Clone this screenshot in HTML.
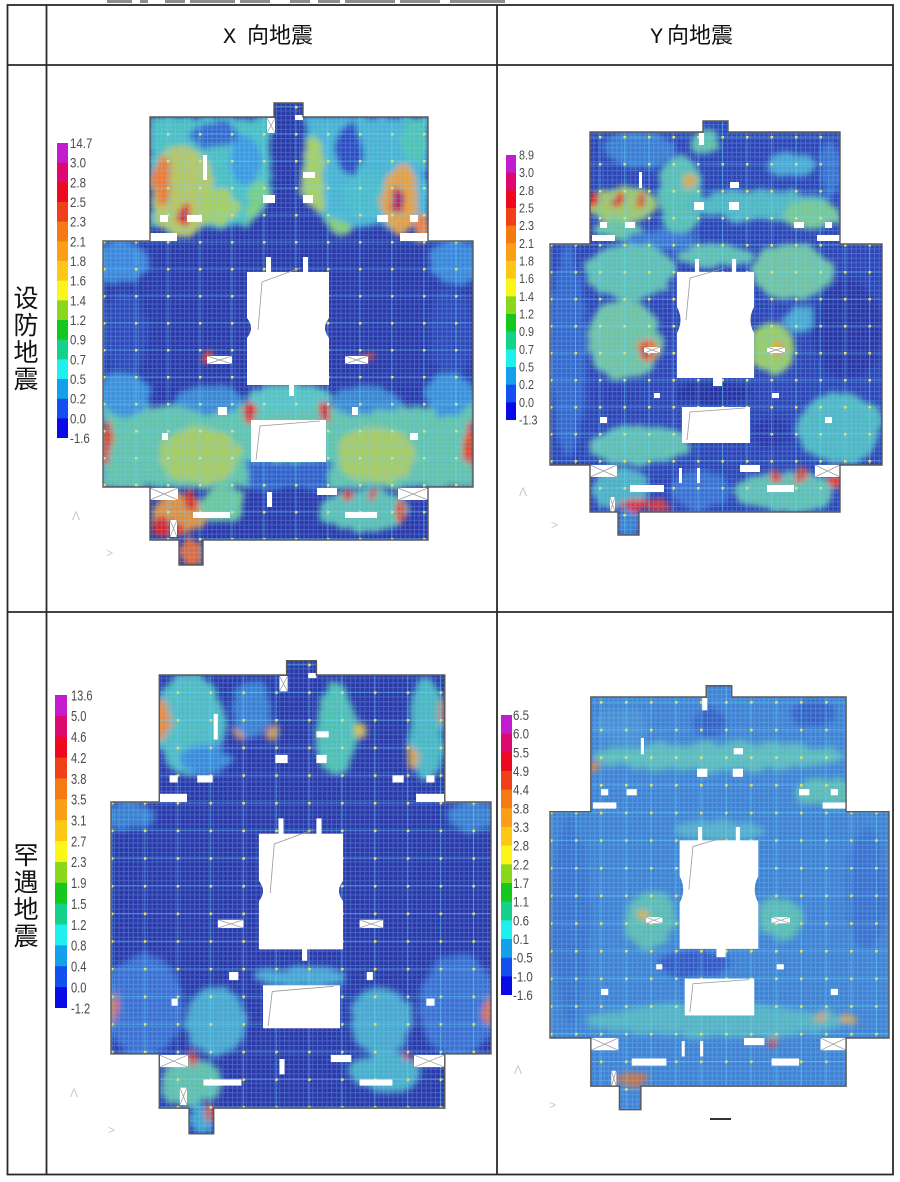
<!DOCTYPE html>
<html><head><meta charset="utf-8">
<style>
html,body{margin:0;padding:0;background:#fff;}
svg{display:block}
.lg{font-family:"Liberation Sans",sans-serif;fill:#4a4a4a}
.hd{font-family:"Liberation Sans","Noto Sans CJK SC",sans-serif;font-size:22px;fill:#111}
.rl{font-family:"Liberation Sans","Noto Sans CJK SC",sans-serif;font-size:25px;fill:#111}
.mk{font-family:"Liberation Sans",sans-serif;font-size:12px;fill:#c8c8c8}
</style></head><body>
<svg width="900" height="1182" viewBox="0 0 900 1182" xmlns="http://www.w3.org/2000/svg">
<defs>
<filter id="bl" x="-20%" y="-20%" width="140%" height="140%">
<feTurbulence type="fractalNoise" baseFrequency="0.07" numOctaves="2" seed="3" result="n"/>
<feDisplacementMap in="SourceGraphic" in2="n" scale="12" xChannelSelector="R" yChannelSelector="G" result="d"/>
<feGaussianBlur in="d" stdDeviation="3"/>
</filter>
<pattern id="fg" width="4.6" height="4.6" patternUnits="userSpaceOnUse"><path d="M0 0.5H4.6M0.5 0V4.6" stroke="#8cc8ff" stroke-opacity=".3" stroke-width="1" fill="none"/></pattern>
<pattern id="mgx" x="103" y="241" width="32" height="27" patternUnits="userSpaceOnUse"><path d="M0 1H32M1 0V27" stroke="#5ee0ff" stroke-opacity=".4" stroke-width="1.1" fill="none"/><circle cx="1" cy="1" r="1.6" fill="#e8e060"/></pattern>
<pattern id="mgy" x="550" y="244" width="24.5" height="27" patternUnits="userSpaceOnUse"><path d="M0 1H24.5M1 0V27" stroke="#5ee0ff" stroke-opacity=".4" stroke-width="1.1" fill="none"/><circle cx="1" cy="1" r="1.6" fill="#e8e060"/></pattern>
<clipPath id="cx"><path d="M150,117H274V103H303V117H428V241H473V487H428V540H203V565H179V540H150V487H103V241H150Z"/></clipPath>
<clipPath id="cy"><path d="M590,132H703V121H728V132H840V244H882V465H840V512H639V535H618V512H590V465H550V244H590Z"/></clipPath>
<g id="bar">
<rect y="0" width="1" height="1.05" fill="#c21ccf"/>
<rect y="1" width="1" height="1.05" fill="#dc0a6e"/>
<rect y="2" width="1" height="1.05" fill="#ee0a1e"/>
<rect y="3" width="1" height="1.05" fill="#f0401a"/>
<rect y="4" width="1" height="1.05" fill="#f57a14"/>
<rect y="5" width="1" height="1.05" fill="#fba016"/>
<rect y="6" width="1" height="1.05" fill="#fdc814"/>
<rect y="7" width="1" height="1.05" fill="#fbf51a"/>
<rect y="8" width="1" height="1.05" fill="#8ad81e"/>
<rect y="9" width="1" height="1.05" fill="#14c81e"/>
<rect y="10" width="1" height="1.05" fill="#14d28c"/>
<rect y="11" width="1" height="1.05" fill="#1ef0f0"/>
<rect y="12" width="1" height="1.05" fill="#14a0ea"/>
<rect y="13" width="1" height="1.05" fill="#1450f0"/>
<rect y="14" width="1" height="1" fill="#0a0ae6"/>
</g>
<g id="hx">
<path d="M247,272H266V257H271V272H303V257H308V272H329V318Q321,328 329,338V385H294V396H289V385H247V338Q255,328 247,318Z" fill="#fff"/>
<polyline points="300,268 262,282 258,330" fill="none" stroke="#999" stroke-width=".8"/>
<rect x="251" y="420" width="75" height="42" fill="#fff"/>
<polyline points="320,421 260,426 256,460" fill="none" stroke="#999" stroke-width=".8"/>
<g fill="#fff">
<rect x="267" y="118" width="8" height="15"/><rect x="295" y="115" width="8" height="5"/><rect x="203" y="155" width="4" height="25"/>
<rect x="303" y="172" width="12" height="6"/><rect x="263" y="195" width="12" height="8"/><rect x="303" y="195" width="10" height="8"/>
<rect x="160" y="215" width="8" height="7"/><rect x="187" y="215" width="15" height="7"/><rect x="150" y="233" width="27" height="8"/>
<rect x="377" y="215" width="11" height="7"/><rect x="410" y="215" width="8" height="7"/><rect x="400" y="233" width="28" height="8"/>
<rect x="207" y="356" width="25" height="8"/><rect x="345" y="356" width="23" height="8"/><rect x="218" y="407" width="9" height="8"/>
<rect x="352" y="407" width="6" height="8"/><rect x="162" y="433" width="6" height="7"/><rect x="410" y="433" width="8" height="7"/>
<rect x="150" y="488" width="28" height="12"/><rect x="398" y="488" width="30" height="12"/><rect x="317" y="488" width="20" height="7"/>
<rect x="193" y="512" width="37" height="6"/><rect x="345" y="512" width="32" height="6"/><rect x="170" y="520" width="7" height="17"/>
<rect x="267" y="492" width="5" height="15"/>
</g>
<g stroke="#999" stroke-width=".7" fill="none">
<path d="M150,488L178,500M178,488L150,500M398,488L428,500M428,488L398,500M207,356L232,364M232,356L207,364M345,356L368,364M368,356L345,364M267,118L275,133M275,118L267,133M170,520L177,537M177,520L170,537"/>
</g>
<path d="M150,117H274V103H303V117H428V241H473V487H428V540H203V565H179V540H150V487H103V241H150Z" fill="none" stroke="#5a5a5a" stroke-width="1.4"/>
</g>
<g id="hy">
<path d="M677,272H695V259H699V272H732V259H736V272H754V307Q747,320 754,333V378H722V386H713V378H677V333Q684,320 677,307Z" fill="#fff"/>
<polyline points="725,268 690,278 686,320" fill="none" stroke="#999" stroke-width=".8"/>
<rect x="682" y="407" width="68" height="36" fill="#fff"/>
<polyline points="745,408 690,412 687,440" fill="none" stroke="#999" stroke-width=".8"/>
<g fill="#fff">
<rect x="699" y="133" width="5" height="12"/><rect x="639" y="172" width="3" height="16"/><rect x="730" y="182" width="9" height="6"/>
<rect x="694" y="202" width="10" height="8"/><rect x="729" y="202" width="10" height="8"/><rect x="600" y="222" width="7" height="6"/>
<rect x="625" y="222" width="10" height="6"/><rect x="794" y="222" width="10" height="6"/><rect x="825" y="222" width="7" height="6"/>
<rect x="592" y="235" width="23" height="6"/><rect x="817" y="235" width="23" height="6"/><rect x="644" y="347" width="16" height="6"/>
<rect x="767" y="347" width="18" height="6"/><rect x="654" y="393" width="6" height="5"/><rect x="772" y="393" width="7" height="5"/>
<rect x="600" y="417" width="7" height="6"/><rect x="825" y="417" width="7" height="6"/><rect x="590" y="465" width="27" height="12"/>
<rect x="815" y="465" width="25" height="12"/><rect x="740" y="465" width="20" height="7"/><rect x="630" y="485" width="34" height="7"/>
<rect x="767" y="485" width="27" height="7"/><rect x="610" y="497" width="5" height="15"/><rect x="697" y="468" width="3" height="15"/>
<rect x="679" y="468" width="3" height="15"/>
</g>
<g stroke="#999" stroke-width=".7" fill="none">
<path d="M590,465L617,477M617,465L590,477M815,465L840,477M840,465L815,477M644,347L660,353M660,347L644,353M767,347L785,353M785,347L767,353M610,497L615,512M615,497L610,512"/>
</g>
<path d="M590,132H703V121H728V132H840V244H882V465H840V512H639V535H618V512H590V465H550V244H590Z" fill="none" stroke="#5a5a5a" stroke-width="1.4"/>
</g>
</defs>

<!-- top cut-off text -->
<g fill="#444" opacity=".6">
<rect x="107" y="0" width="25" height="3"/><rect x="140" y="0" width="8" height="3"/><rect x="165" y="0" width="20" height="3"/>
<rect x="190" y="0" width="45" height="3"/><rect x="240" y="0" width="30" height="3"/><rect x="290" y="0" width="20" height="3"/>
<rect x="318" y="0" width="22" height="3"/><rect x="345" y="0" width="50" height="3"/><rect x="400" y="0" width="40" height="3"/>
<rect x="450" y="0" width="55" height="3"/>
</g>

<!-- PLOT 1 -->
<g clip-path="url(#cx)">
<rect x="100" y="100" width="380" height="470" fill="#2b38a8"/>
<g filter="url(#bl)">
<rect x="150" y="117" width="120" height="110" fill="#4cc0c0"/>
<rect x="305" y="117" width="123" height="110" fill="#48b4d0"/>
<ellipse cx="182" cy="192" rx="32" ry="45" fill="#b8c860"/>
<ellipse cx="162" cy="180" rx="10" ry="25" fill="#f07a30"/>
<ellipse cx="183" cy="216" rx="8" ry="10" fill="#e02030"/>
<ellipse cx="220" cy="205" rx="18" ry="18" fill="#a8d060"/>
<ellipse cx="215" cy="135" rx="25" ry="14" fill="#3468cc"/>
<ellipse cx="245" cy="160" rx="15" ry="25" fill="#3a9ae0"/>
<ellipse cx="258" cy="205" rx="12" ry="25" fill="#78d080"/>
<ellipse cx="313" cy="180" rx="12" ry="45" fill="#a8d060"/>
<ellipse cx="350" cy="150" rx="14" ry="25" fill="#2e4cc0"/>
<ellipse cx="365" cy="195" rx="22" ry="25" fill="#48bcc8"/>
<ellipse cx="400" cy="200" rx="18" ry="35" fill="#e8a040"/>
<ellipse cx="398" cy="200" rx="6" ry="12" fill="#b02060"/>
<ellipse cx="415" cy="140" rx="14" ry="22" fill="#50c4b0"/>
<ellipse cx="422" cy="228" rx="8" ry="14" fill="#f08040"/>
<ellipse cx="335" cy="228" rx="14" ry="10" fill="#88d070"/>
<polygon points="228,252 350,252 305,195 272,195" fill="#2b38a8"/>
<rect x="274" y="100" width="29" height="110" fill="#2b38a8"/>
<ellipse cx="120" cy="262" rx="28" ry="22" fill="#3a86d8"/>
<ellipse cx="456" cy="262" rx="28" ry="22" fill="#3a86d8"/>
<ellipse cx="125" cy="335" rx="22" ry="45" fill="#2e48b8"/>
<ellipse cx="451" cy="335" rx="22" ry="45" fill="#2e48b8"/>
<rect x="103" y="405" width="370" height="82" fill="#62c4a8"/>
<ellipse cx="125" cy="395" rx="25" ry="22" fill="#3a90d8"/>
<ellipse cx="450" cy="395" rx="25" ry="22" fill="#3a90d8"/>
<ellipse cx="210" cy="400" rx="35" ry="14" fill="#3a86d0"/>
<ellipse cx="366" cy="400" rx="35" ry="14" fill="#3a86d0"/>
<ellipse cx="288" cy="398" rx="42" ry="14" fill="#58c4c0"/>
<ellipse cx="200" cy="455" rx="40" ry="28" fill="#a8cc60"/>
<ellipse cx="376" cy="455" rx="40" ry="28" fill="#a8cc60"/>
<ellipse cx="106" cy="445" rx="7" ry="22" fill="#e04428"/>
<ellipse cx="470" cy="445" rx="7" ry="22" fill="#e04428"/>
<ellipse cx="250" cy="412" rx="6" ry="10" fill="#e02020"/>
<ellipse cx="326" cy="412" rx="6" ry="10" fill="#e02020"/>
<ellipse cx="208" cy="358" rx="5" ry="7" fill="#e04030"/>
<ellipse cx="368" cy="358" rx="5" ry="7" fill="#e04030"/>
<rect x="248" y="462" width="82" height="30" fill="#3060c8"/>
<ellipse cx="178" cy="515" rx="28" ry="22" fill="#e09040"/>
<ellipse cx="168" cy="528" rx="16" ry="10" fill="#d02830"/>
<ellipse cx="190" cy="500" rx="6" ry="12" fill="#e02020"/>
<ellipse cx="222" cy="505" rx="22" ry="18" fill="#6cc898"/>
<ellipse cx="288" cy="515" rx="32" ry="30" fill="#2b38a8"/>
<ellipse cx="365" cy="510" rx="45" ry="22" fill="#5cc0b0"/>
<ellipse cx="348" cy="495" rx="5" ry="6" fill="#e03030"/>
<ellipse cx="372" cy="495" rx="5" ry="6" fill="#e03030"/>
<ellipse cx="400" cy="512" rx="7" ry="12" fill="#e05030"/>
<ellipse cx="191" cy="553" rx="12" ry="14" fill="#e06a3a"/>
</g>
<rect x="100" y="100" width="380" height="470" fill="url(#fg)"/>
<rect x="100" y="100" width="380" height="470" fill="url(#mgx)"/>
</g>
<use href="#hx"/>

<!-- PLOT 3 -->
<g transform="translate(5.22,555.19) scale(1.027,1.024)">
<g clip-path="url(#cx)">
<rect x="100" y="100" width="380" height="470" fill="#2b38a8"/>
<g filter="url(#bl)">
<ellipse cx="180" cy="165" rx="35" ry="50" fill="#50bcc0"/>
<ellipse cx="152" cy="162" rx="8" ry="20" fill="#e88a40"/>
<ellipse cx="195" cy="200" rx="25" ry="15" fill="#3a8ad8"/>
<ellipse cx="228" cy="174" rx="6" ry="7" fill="#e8a040"/>
<ellipse cx="261" cy="174" rx="6" ry="7" fill="#e8a040"/>
<ellipse cx="240" cy="150" rx="18" ry="30" fill="#3a80d0"/>
<ellipse cx="322" cy="170" rx="20" ry="45" fill="#50c0b0"/>
<ellipse cx="345" cy="172" rx="6" ry="7" fill="#e0c040"/>
<ellipse cx="410" cy="170" rx="18" ry="50" fill="#48b8c0"/>
<ellipse cx="425" cy="153" rx="4" ry="12" fill="#e07030"/>
<ellipse cx="397" cy="197" rx="5" ry="10" fill="#e0a040"/>
<ellipse cx="120" cy="255" rx="25" ry="15" fill="#3a80d0"/>
<ellipse cx="456" cy="255" rx="25" ry="15" fill="#3a80d0"/>
<ellipse cx="135" cy="440" rx="38" ry="50" fill="#3a70d0"/>
<ellipse cx="441" cy="440" rx="38" ry="50" fill="#3a70d0"/>
<ellipse cx="105" cy="444" rx="5" ry="15" fill="#e07030"/>
<ellipse cx="471" cy="444" rx="5" ry="15" fill="#e07030"/>
<ellipse cx="205" cy="455" rx="30" ry="33" fill="#48a8cc"/>
<ellipse cx="365" cy="455" rx="30" ry="33" fill="#48a8cc"/>
<ellipse cx="288" cy="412" rx="45" ry="10" fill="#48a8d0"/>
<ellipse cx="180" cy="515" rx="30" ry="25" fill="#60c0a8"/>
<ellipse cx="182" cy="492" rx="5" ry="8" fill="#e03030"/>
<ellipse cx="393" cy="492" rx="5" ry="8" fill="#e03030"/>
<ellipse cx="386" cy="512" rx="5" ry="6" fill="#e04030"/>
<ellipse cx="370" cy="505" rx="35" ry="20" fill="#4ab0c8"/>
<ellipse cx="191" cy="552" rx="12" ry="14" fill="#40a8d0"/>
<ellipse cx="200" cy="545" rx="3" ry="8" fill="#e05030"/>
</g>
<rect x="100" y="100" width="380" height="470" fill="url(#fg)"/>
<rect x="100" y="100" width="380" height="470" fill="url(#mgx)"/>
</g>
<use href="#hx"/>
</g>

<!-- PLOT 2 -->
<g clip-path="url(#cy)">
<rect x="540" y="115" width="350" height="425" fill="#2e44b4"/>
<g filter="url(#bl)">
<ellipse cx="640" cy="150" rx="35" ry="18" fill="#3a7ed0"/>
<ellipse cx="622" cy="205" rx="35" ry="18" fill="#a0c868"/>
<ellipse cx="593" cy="200" rx="6" ry="8" fill="#e02020"/>
<ellipse cx="620" cy="200" rx="6" ry="7" fill="#e03028"/>
<ellipse cx="641" cy="200" rx="5" ry="6" fill="#e04a28"/>
<ellipse cx="618" cy="230" rx="25" ry="9" fill="#68c49c"/>
<ellipse cx="680" cy="195" rx="22" ry="40" fill="#58c0b0"/>
<ellipse cx="688" cy="182" rx="7" ry="9" fill="#e0a840"/>
<ellipse cx="705" cy="142" rx="14" ry="12" fill="#60c0a8"/>
<ellipse cx="790" cy="165" rx="25" ry="12" fill="#48a8d0"/>
<ellipse cx="760" cy="205" rx="70" ry="15" fill="#50b8c0"/>
<ellipse cx="812" cy="215" rx="28" ry="14" fill="#78c890"/>
<ellipse cx="830" cy="170" rx="10" ry="30" fill="#3a74d0"/>
<ellipse cx="660" cy="240" rx="35" ry="10" fill="#3a74d0"/>
<ellipse cx="568" cy="350" rx="18" ry="105" fill="#3668cc"/>
<ellipse cx="630" cy="272" rx="45" ry="28" fill="#60c0b0"/>
<ellipse cx="625" cy="340" rx="38" ry="40" fill="#70c4a0"/>
<ellipse cx="665" cy="320" rx="10" ry="20" fill="#2e40b0"/>
<ellipse cx="648" cy="350" rx="10" ry="12" fill="#e87830"/>
<ellipse cx="646" cy="352" rx="5" ry="7" fill="#e02020"/>
<ellipse cx="612" cy="398" rx="22" ry="15" fill="#2e3cb0"/>
<ellipse cx="640" cy="445" rx="50" ry="20" fill="#60c0b0"/>
<ellipse cx="715" cy="256" rx="38" ry="12" fill="#60c0b0"/>
<ellipse cx="792" cy="272" rx="40" ry="28" fill="#70c4a0"/>
<ellipse cx="772" cy="348" rx="22" ry="26" fill="#98cc68"/>
<ellipse cx="778" cy="350" rx="6" ry="8" fill="#e0a030"/>
<ellipse cx="848" cy="330" rx="35" ry="50" fill="#2a34a4"/>
<ellipse cx="800" cy="320" rx="14" ry="14" fill="#48a8d0"/>
<ellipse cx="840" cy="428" rx="42" ry="36" fill="#50b8c0"/>
<ellipse cx="715" cy="393" rx="40" ry="12" fill="#2630a0"/>
<ellipse cx="772" cy="432" rx="20" ry="14" fill="#2a36a8"/>
<ellipse cx="620" cy="488" rx="30" ry="20" fill="#50b0c0"/>
<ellipse cx="645" cy="505" rx="28" ry="6" fill="#e03030"/>
<ellipse cx="700" cy="490" rx="30" ry="20" fill="#3a70d0"/>
<ellipse cx="785" cy="492" rx="50" ry="20" fill="#60c0b0"/>
<ellipse cx="775" cy="476" rx="5" ry="6" fill="#e03030"/>
<ellipse cx="800" cy="476" rx="5" ry="6" fill="#e05030"/>
<ellipse cx="835" cy="478" rx="8" ry="10" fill="#e04040"/>
<ellipse cx="628" cy="522" rx="12" ry="14" fill="#3a80d0"/>
</g>
<rect x="540" y="115" width="350" height="425" fill="url(#fg)"/>
<rect x="540" y="115" width="350" height="425" fill="url(#mgy)"/>
</g>
<use href="#hy"/>

<!-- PLOT 4 -->
<g transform="translate(-11.55,561.83) scale(1.021,1.024)">
<g clip-path="url(#cy)">
<rect x="540" y="115" width="350" height="425" fill="#4082d2"/>
<g filter="url(#bl)">
<ellipse cx="715" cy="190" rx="125" ry="14" fill="#5cbcb8"/>
<ellipse cx="705" cy="158" rx="15" ry="15" fill="#3460c4"/>
<ellipse cx="808" cy="148" rx="22" ry="14" fill="#3460c4"/>
<ellipse cx="620" cy="160" rx="25" ry="18" fill="#4a90d4"/>
<ellipse cx="593" cy="200" rx="5" ry="6" fill="#e08040"/>
<ellipse cx="820" cy="225" rx="30" ry="14" fill="#5cbcb0"/>
<ellipse cx="570" cy="350" rx="18" ry="100" fill="#3a72cc"/>
<ellipse cx="648" cy="350" rx="25" ry="28" fill="#5cbcb0"/>
<ellipse cx="642" cy="346" rx="5" ry="6" fill="#e0b040"/>
<ellipse cx="775" cy="348" rx="22" ry="20" fill="#5cbcb0"/>
<ellipse cx="715" cy="262" rx="45" ry="10" fill="#54b0c8"/>
<ellipse cx="690" cy="392" rx="35" ry="14" fill="#3458c4"/>
<ellipse cx="715" cy="448" rx="130" ry="16" fill="#54b4c0"/>
<ellipse cx="816" cy="446" rx="5" ry="5" fill="#e0a040"/>
<ellipse cx="842" cy="446" rx="5" ry="5" fill="#e0a040"/>
<ellipse cx="769" cy="468" rx="5" ry="6" fill="#e04030"/>
<ellipse cx="630" cy="505" rx="18" ry="6" fill="#d07040"/>
<ellipse cx="860" cy="320" rx="20" ry="60" fill="#3a70cc"/>
</g>
<rect x="540" y="115" width="350" height="425" fill="url(#fg)"/>
<rect x="540" y="115" width="350" height="425" fill="url(#mgy)"/>
</g>
<use href="#hy"/>
</g>
<rect x="710" y="1118" width="21" height="2" fill="#333"/>

<!-- legends -->
<use href="#bar" transform="translate(57,143) scale(11,19.667)"/>
<g class="lg" font-size="14" transform="translate(70,0) scale(0.82,1)">
<text x="0" y="148">14.7</text><text x="0" y="167.7">3.0</text><text x="0" y="187.3">2.8</text><text x="0" y="207">2.5</text>
<text x="0" y="226.7">2.3</text><text x="0" y="246.3">2.1</text><text x="0" y="266">1.8</text><text x="0" y="285.7">1.6</text>
<text x="0" y="305.3">1.4</text><text x="0" y="325">1.2</text><text x="0" y="344.7">0.9</text><text x="0" y="364.3">0.7</text>
<text x="0" y="384">0.5</text><text x="0" y="403.7">0.2</text><text x="0" y="423.3">0.0</text><text x="0" y="443">-1.6</text>
</g>
<use href="#bar" transform="translate(506,155) scale(10,17.667)"/>
<g class="lg" font-size="12.5" transform="translate(519,0) scale(0.86,1)">
<text x="0" y="159.5">8.9</text><text x="0" y="177.2">3.0</text><text x="0" y="194.8">2.8</text><text x="0" y="212.5">2.5</text>
<text x="0" y="230.2">2.3</text><text x="0" y="247.8">2.1</text><text x="0" y="265.5">1.8</text><text x="0" y="283.2">1.6</text>
<text x="0" y="300.8">1.4</text><text x="0" y="318.5">1.2</text><text x="0" y="336.2">0.9</text><text x="0" y="353.8">0.7</text>
<text x="0" y="371.5">0.5</text><text x="0" y="389.2">0.2</text><text x="0" y="406.8">0.0</text><text x="0" y="424.5">-1.3</text>
</g>
<use href="#bar" transform="translate(55,695) scale(12,20.867)"/>
<g class="lg" font-size="15" transform="translate(71,0) scale(0.74,1)">
<text x="0" y="700.3">13.6</text><text x="0" y="721.2">5.0</text><text x="0" y="742">4.6</text><text x="0" y="762.9">4.2</text>
<text x="0" y="783.8">3.8</text><text x="0" y="804.6">3.5</text><text x="0" y="825.5">3.1</text><text x="0" y="846.4">2.7</text>
<text x="0" y="867.2">2.3</text><text x="0" y="888.1">1.9</text><text x="0" y="909">1.5</text><text x="0" y="929.8">1.2</text>
<text x="0" y="950.7">0.8</text><text x="0" y="971.6">0.4</text><text x="0" y="992.4">0.0</text><text x="0" y="1013.3">-1.2</text>
</g>
<use href="#bar" transform="translate(501,715) scale(11,18.667)"/>
<g class="lg" font-size="14" transform="translate(513,0) scale(0.82,1)">
<text x="0" y="720">6.5</text><text x="0" y="738.7">6.0</text><text x="0" y="757.3">5.5</text><text x="0" y="776">4.9</text>
<text x="0" y="794.7">4.4</text><text x="0" y="813.3">3.8</text><text x="0" y="832">3.3</text><text x="0" y="850.7">2.8</text>
<text x="0" y="869.3">2.2</text><text x="0" y="888">1.7</text><text x="0" y="906.7">1.1</text><text x="0" y="925.3">0.6</text>
<text x="0" y="944">0.1</text><text x="0" y="962.7">-0.5</text><text x="0" y="981.3">-1.0</text><text x="0" y="1000">-1.6</text>
</g>

<!-- small axis marks -->
<text class="mk" x="72" y="520">Λ</text><text class="mk" x="106" y="557">&gt;</text>
<text class="mk" x="519" y="496">Λ</text><text class="mk" x="551" y="529">&gt;</text>
<text class="mk" x="70" y="1097">Λ</text><text class="mk" x="108" y="1134">&gt;</text>
<text class="mk" x="514" y="1074">Λ</text><text class="mk" x="549" y="1109">&gt;</text>

<!-- table -->
<g stroke="#2a2a2a" stroke-width="1.8" fill="none">
<rect x="7.5" y="5" width="885.5" height="1169.5"/>
<line x1="46.5" y1="5" x2="46.5" y2="1174.5"/>
<line x1="497" y1="5" x2="497" y2="1174.5"/>
<line x1="7.5" y1="65" x2="893" y2="65"/>
<line x1="7.5" y1="612" x2="893" y2="612"/>
</g>

<!-- headers -->
<text class="hd" y="43"><tspan x="223" font-family="Liberation Mono">X</tspan><tspan x="247">向地震</tspan></text>
<text class="hd" y="43"><tspan x="650" font-family="Liberation Mono">Y</tspan><tspan x="667">向地震</tspan></text>

<!-- row labels -->
<g class="rl" text-anchor="middle">
<text x="26" y="307">设</text><text x="26" y="334">防</text><text x="26" y="361">地</text><text x="26" y="388">震</text>
<text x="26" y="864">罕</text><text x="26" y="891">遇</text><text x="26" y="918">地</text><text x="26" y="945">震</text>
</g>
</svg>
</body></html>
